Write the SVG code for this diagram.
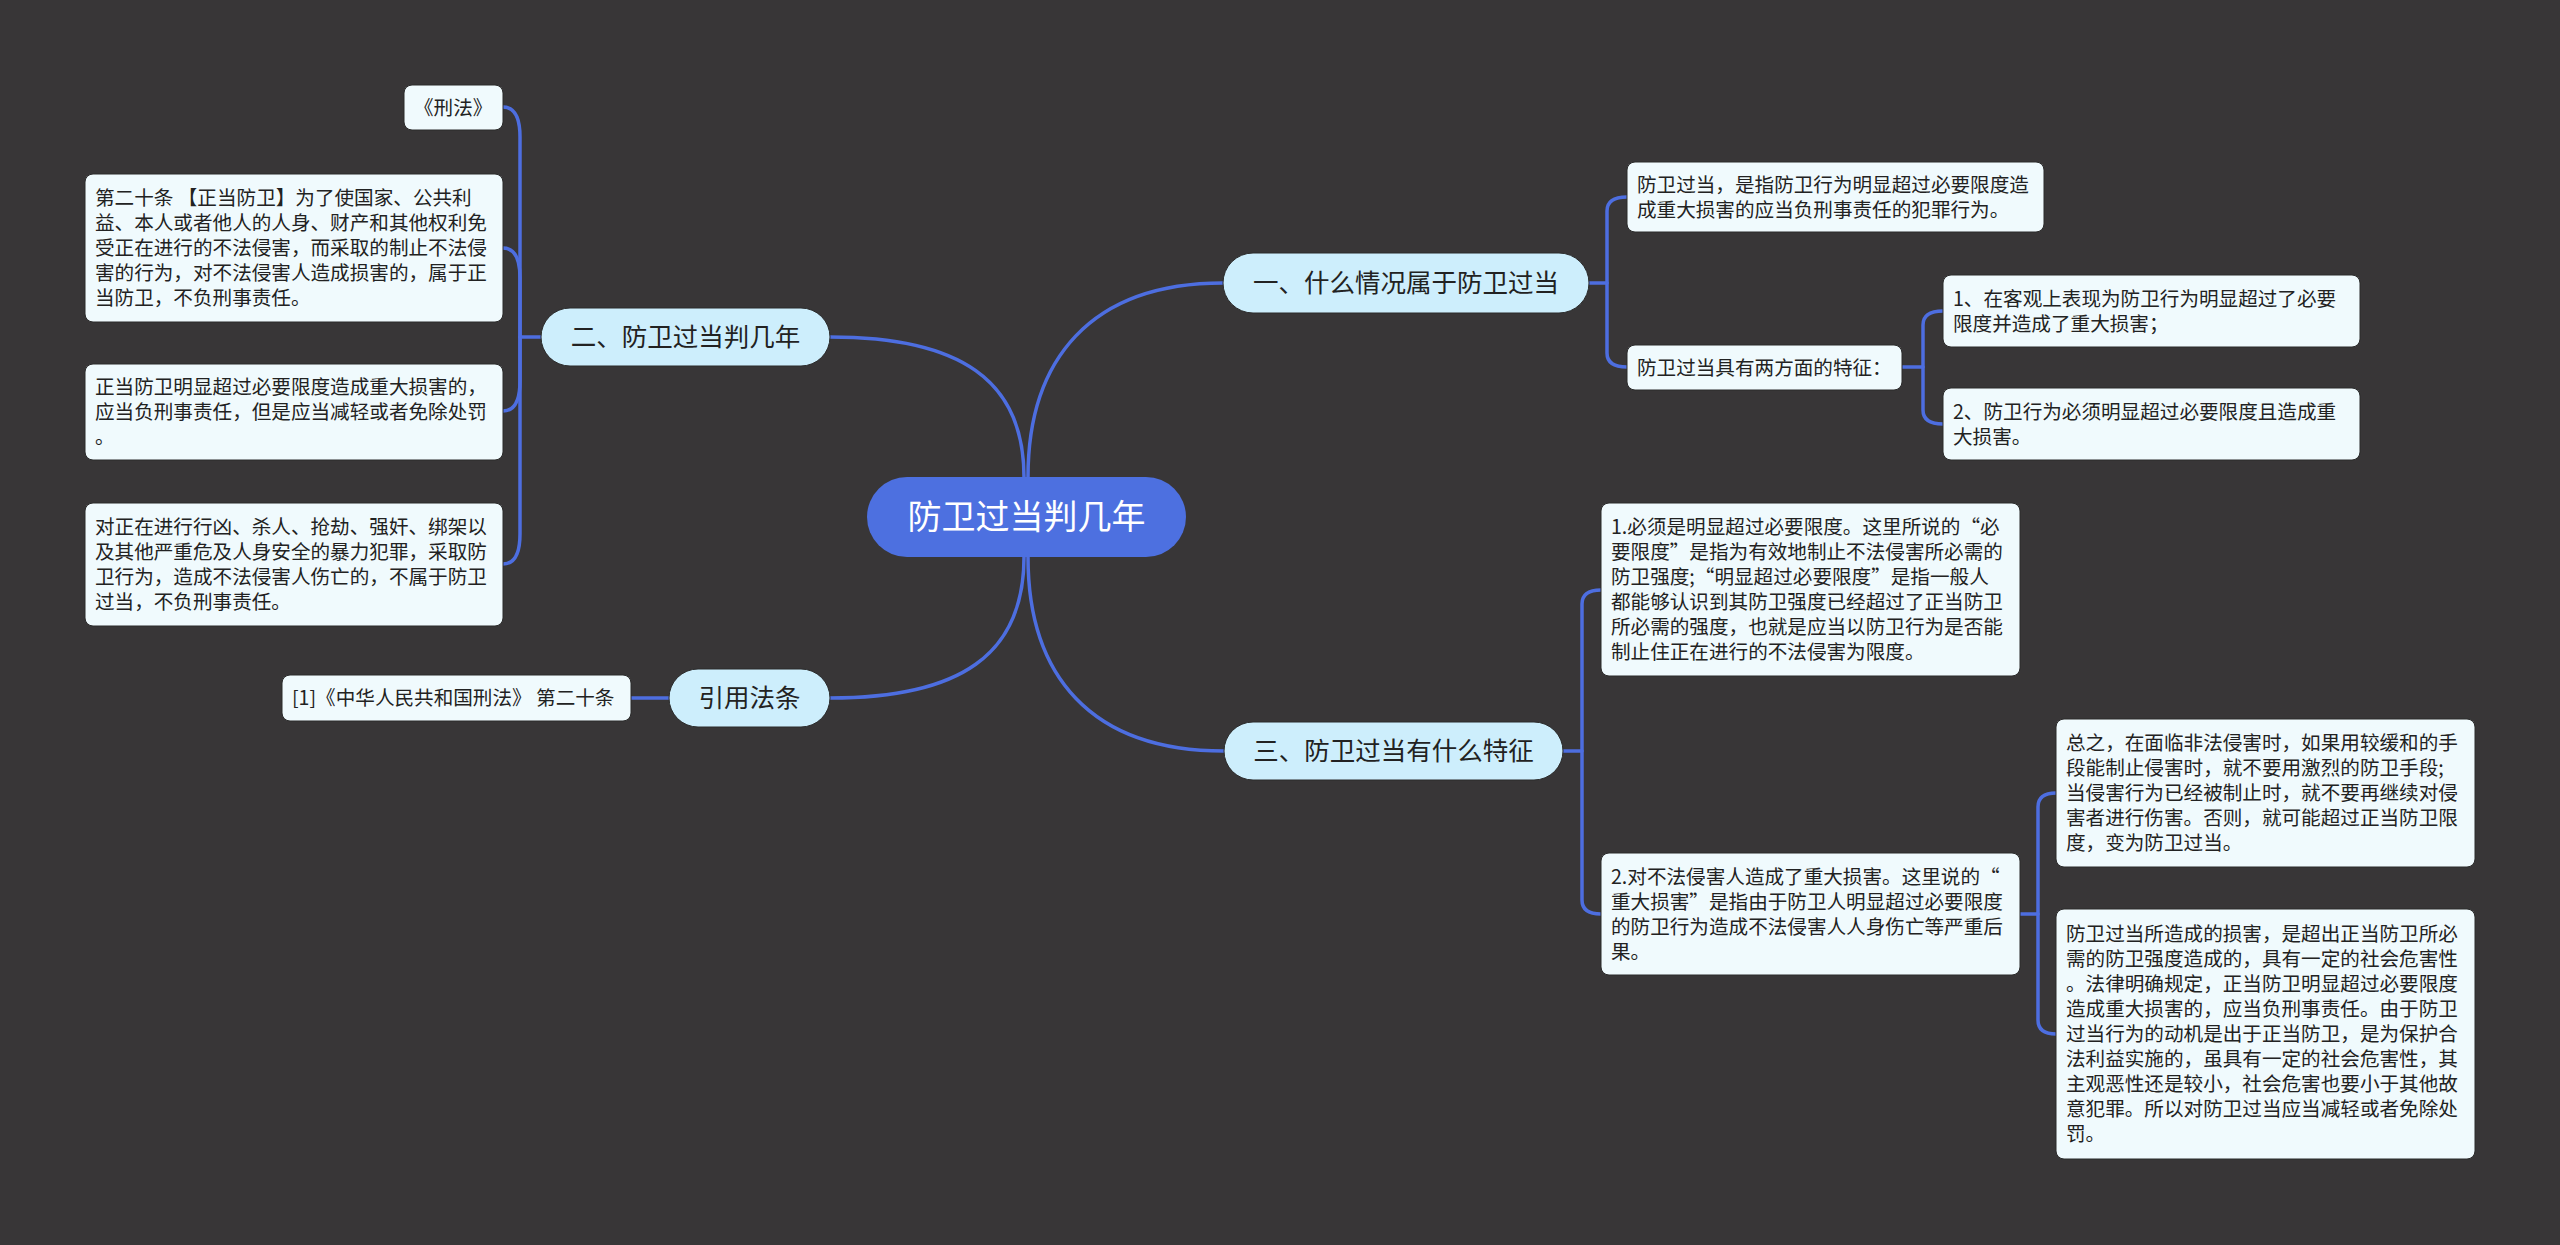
<svg xmlns="http://www.w3.org/2000/svg" width="2560" height="1245" viewBox="0 0 2560 1245">
<style>
.bg{fill:#383637}
.ln{fill:none;stroke:#4d6ee0;stroke-width:3.5;stroke-linecap:round;stroke-linejoin:round}
.leaf{fill:#f0fafd;stroke:#2a2a2a;stroke-width:1}
.l1{fill:#cdeefc;stroke:#2a2a2a;stroke-width:1}
.root{fill:#4d70e0}
.t{font-family:"Noto Sans CJK SC","Noto Sans",sans-serif;fill:#222}
.ts{font-size:19.6px}
.tm{font-size:25.5px;text-anchor:middle}
.tr{font-size:34px;text-anchor:middle;fill:#ffffff}
</style>
<rect class="bg" x="0" y="0" width="2560" height="1245"/>
<g id="connectors">
<path class="ln" d="M1024,477 C1024,380 960,337 830,337"/>
<path class="ln" d="M1028,477 C1028,360 1090,283 1223,283"/>
<path class="ln" d="M1024,557 C1024,655 960,698 830,698"/>
<path class="ln" d="M1028,557 C1028,675 1090,751 1224,751"/>
<path class="ln" d="M541,337 H520 V137 Q520,107 503,107"/>
<path class="ln" d="M520,337 V278 Q520,248 503,248"/>
<path class="ln" d="M520,337 V381 Q520,411 503,411"/>
<path class="ln" d="M520,337 V534 Q520,564 503,564"/>
<path class="ln" d="M669,698 H631"/>
<path class="ln" d="M1589,283 H1607 V211 Q1607,197 1627,197"/>
<path class="ln" d="M1607,283 V353 Q1607,367 1627,367"/>
<path class="ln" d="M1902,367 H1923 V325 Q1923,311 1943,311"/>
<path class="ln" d="M1923,367 V410 Q1923,424 1943,424"/>
<path class="ln" d="M1563,751 H1582 V604 Q1582,590 1601,590"/>
<path class="ln" d="M1582,751 V900 Q1582,914 1601,914"/>
<path class="ln" d="M2020,914 H2038 V807 Q2038,793 2056,793"/>
<path class="ln" d="M2038,914 V1020 Q2038,1034 2056,1034"/>
</g>
<g id="root">
<rect class="root" x="867" y="477" width="319" height="80" rx="40"/>
<text class="t tr" x="1026.5" y="529">防卫过当判几年</text>
</g>
<g id="n-er">
<rect class="l1" x="541" y="308" width="289" height="58" rx="29"/>
<text class="t tm" x="685.5" y="346">二、防卫过当判几年</text>
</g>
<g id="n-xingfa">
<rect class="leaf" x="404" y="85" width="99" height="45" rx="8"/>
<text class="t ts" x="414" y="114.5">《刑法》</text>
</g>
<g id="n-art20">
<rect class="leaf" x="85" y="174" width="418" height="148" rx="8"/>
<text class="t ts" x="95" y="205"><tspan x="95">第二十条 【正当防卫】为了使国家、公共利</tspan><tspan x="95" dy="25">益、本人或者他人的人身、财产和其他权利免</tspan><tspan x="95" dy="25">受正在进行的不法侵害，而采取的制止不法侵</tspan><tspan x="95" dy="25">害的行为，对不法侵害人造成损害的，属于正</tspan><tspan x="95" dy="25">当防卫，不负刑事责任。</tspan></text>
</g>
<g id="n-exceed">
<rect class="leaf" x="85" y="364" width="418" height="96" rx="8"/>
<text class="t ts" x="95" y="394"><tspan x="95">正当防卫明显超过必要限度造成重大损害的，</tspan><tspan x="95" dy="25">应当负刑事责任，但是应当减轻或者免除处罚</tspan><tspan x="95" dy="25">。</tspan></text>
</g>
<g id="n-violent">
<rect class="leaf" x="85" y="503" width="418" height="123" rx="8"/>
<text class="t ts" x="95" y="534"><tspan x="95">对正在进行行凶、杀人、抢劫、强奸、绑架以</tspan><tspan x="95" dy="25">及其他严重危及人身安全的暴力犯罪，采取防</tspan><tspan x="95" dy="25">卫行为，造成不法侵害人伤亡的，不属于防卫</tspan><tspan x="95" dy="25">过当，不负刑事责任。</tspan></text>
</g>
<g id="n-cite">
<rect class="l1" x="669" y="669" width="161" height="58" rx="29"/>
<text class="t tm" x="749.5" y="707">引用法条</text>
</g>
<g id="n-cite-1">
<rect class="leaf" x="282" y="675" width="349" height="46" rx="8"/>
<text class="t ts" x="292" y="705">[1]《中华人民共和国刑法》 第二十条</text>
</g>
<g id="n-yi">
<rect class="l1" x="1223" y="253" width="366" height="60" rx="30"/>
<text class="t tm" x="1406" y="292">一、什么情况属于防卫过当</text>
</g>
<g id="n-def">
<rect class="leaf" x="1627" y="162" width="417" height="70" rx="8"/>
<text class="t ts" x="1637" y="191.5"><tspan x="1637">防卫过当，是指防卫行为明显超过必要限度造</tspan><tspan x="1637" dy="25">成重大损害的应当负刑事责任的犯罪行为。</tspan></text>
</g>
<g id="n-two">
<rect class="leaf" x="1627" y="345" width="275" height="45" rx="8"/>
<text class="t ts" x="1637" y="374.5">防卫过当具有两方面的特征：</text>
</g>
<g id="n-two-1">
<rect class="leaf" x="1943" y="275" width="417" height="72" rx="8"/>
<text class="t ts" x="1953" y="305.5"><tspan x="1953">1、在客观上表现为防卫行为明显超过了必要</tspan><tspan x="1953" dy="25">限度并造成了重大损害；</tspan></text>
</g>
<g id="n-two-2">
<rect class="leaf" x="1943" y="388" width="417" height="72" rx="8"/>
<text class="t ts" x="1953" y="418.5"><tspan x="1953">2、防卫行为必须明显超过必要限度且造成重</tspan><tspan x="1953" dy="25">大损害。</tspan></text>
</g>
<g id="n-san">
<rect class="l1" x="1224" y="722" width="339" height="58" rx="29"/>
<text class="t tm" x="1393.5" y="760">三、防卫过当有什么特征</text>
</g>
<g id="n-f1">
<rect class="leaf" x="1601" y="503" width="419" height="173" rx="8"/>
<text class="t ts" x="1611" y="534"><tspan x="1611">1.必须是明显超过必要限度。这里所说的“必</tspan><tspan x="1611" dy="25">要限度”是指为有效地制止不法侵害所必需的</tspan><tspan x="1611" dy="25">防卫强度;“明显超过必要限度”是指一般人</tspan><tspan x="1611" dy="25">都能够认识到其防卫强度已经超过了正当防卫</tspan><tspan x="1611" dy="25">所必需的强度，也就是应当以防卫行为是否能</tspan><tspan x="1611" dy="25">制止住正在进行的不法侵害为限度。</tspan></text>
</g>
<g id="n-f2">
<rect class="leaf" x="1601" y="853" width="419" height="122" rx="8"/>
<text class="t ts" x="1611" y="883.5"><tspan x="1611">2.对不法侵害人造成了重大损害。这里说的“</tspan><tspan x="1611" dy="25">重大损害”是指由于防卫人明显超过必要限度</tspan><tspan x="1611" dy="25">的防卫行为造成不法侵害人人身伤亡等严重后</tspan><tspan x="1611" dy="25">果。</tspan></text>
</g>
<g id="n-f2-a">
<rect class="leaf" x="2056" y="719" width="419" height="148" rx="8"/>
<text class="t ts" x="2066" y="750"><tspan x="2066">总之，在面临非法侵害时，如果用较缓和的手</tspan><tspan x="2066" dy="25">段能制止侵害时，就不要用激烈的防卫手段;</tspan><tspan x="2066" dy="25">当侵害行为已经被制止时，就不要再继续对侵</tspan><tspan x="2066" dy="25">害者进行伤害。否则，就可能超过正当防卫限</tspan><tspan x="2066" dy="25">度，变为防卫过当。</tspan></text>
</g>
<g id="n-f2-b">
<rect class="leaf" x="2056" y="909" width="419" height="250" rx="8"/>
<text class="t ts" x="2066" y="941"><tspan x="2066">防卫过当所造成的损害，是超出正当防卫所必</tspan><tspan x="2066" dy="25">需的防卫强度造成的，具有一定的社会危害性</tspan><tspan x="2066" dy="25">。法律明确规定，正当防卫明显超过必要限度</tspan><tspan x="2066" dy="25">造成重大损害的，应当负刑事责任。由于防卫</tspan><tspan x="2066" dy="25">过当行为的动机是出于正当防卫，是为保护合</tspan><tspan x="2066" dy="25">法利益实施的，虽具有一定的社会危害性，其</tspan><tspan x="2066" dy="25">主观恶性还是较小，社会危害也要小于其他故</tspan><tspan x="2066" dy="25">意犯罪。所以对防卫过当应当减轻或者免除处</tspan><tspan x="2066" dy="25">罚。</tspan></text>
</g>
</svg>
